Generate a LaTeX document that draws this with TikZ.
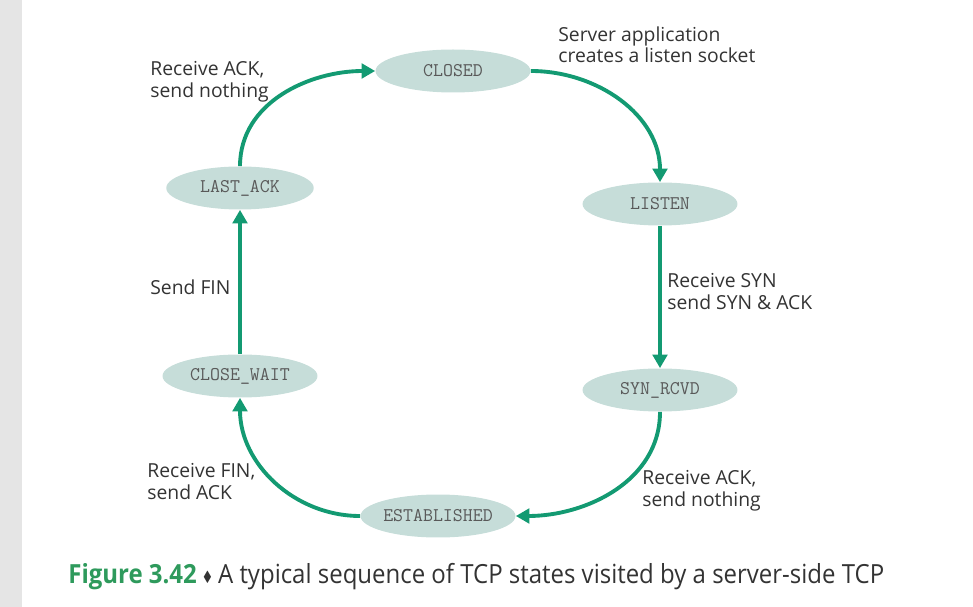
\documentclass[tikz,border=0pt]{standalone}
\usepackage{amssymb}
\usepackage{fontspec}
\setmainfont{Open Sans}
\usetikzlibrary{shapes.geometric,arrows.meta}
\definecolor{tcpgreen}{HTML}{139A72}
\definecolor{statefill}{HTML}{C6DDD9}
\definecolor{labelgray}{HTML}{333333}
\definecolor{figgreen}{HTML}{2E9A5C}

\begin{document}
\begin{tikzpicture}[
    x=0.02cm, y=-0.02cm,
    tcpstate/.style={ellipse, fill=statefill, minimum width=3.1cm, minimum height=0.86cm,
                     inner sep=0pt, text=black!65, font=\ttfamily\fontsize{11}{12}\selectfont},
    lbl/.style={anchor=north west, align=left, inner sep=0pt, text=labelgray,
                font=\fontsize{11}{12.5}\selectfont},
    arrow/.style={-{Triangle[length=2.7mm, width=2.9mm]}, line width=2.2pt, draw=tcpgreen}
  ]
    \useasboundingbox (0,0) rectangle (973,607);
    \fill[black!10] (0,0) rectangle (22,607);
    % states
    \node[tcpstate] (closed) at (453,71) {CLOSED};
    \node[tcpstate] (listen) at (660,204) {LISTEN};
    \node[tcpstate] (synrcvd) at (660,390) {SYN\_RCVD};
    \node[tcpstate] (established) at (438,516) {ESTABLISHED};
    \node[tcpstate] (closewait) at (240,376) {CLOSE\_WAIT};
    \node[tcpstate, minimum width=2.95cm] (lastack) at (240,188) {LAST\_ACK};
    % transitions
    \draw[arrow] (closed.east) to[out=0, in=90] (listen.north);
    \draw[arrow] (synrcvd.south) to[out=-90, in=0] (established.east);
    \draw[arrow] (established.west) to[out=180, in=-90] (closewait.south);
    \draw[arrow] (lastack.north) to[out=90, in=180] (closed.west);
    \foreach \a/\b in {listen/synrcvd, closewait/lastack}
      \draw[arrow] (\a) -- (\b);
    % labels
    \node[lbl] (l-ack1) at (150,61) {Receive ACK,\\send nothing};
    \node[lbl] (l-srv) at (558,26) {Server application\\creates a listen socket};
    \node[lbl] (l-syn) at (667,273) {Receive SYN\\send SYN \& ACK};
    \node[lbl] (l-fin) at (150,279) {Send FIN};
    \node[lbl] (l-rfin) at (147,463) {Receive FIN,\\send ACK};
    \node[lbl] (l-ack2) at (642,470) {Receive ACK,\\send nothing};
    % caption
    \node[anchor=base west, inner sep=0pt, text=labelgray] (caption) at (68,583)
      {\scalebox{0.91}[1]{\fontsize{15}{18}\selectfont{\color{figgreen}\bfseries Figure 3.42}
       \raisebox{1pt}{\scalebox{0.55}{$\blacklozenge$}} A typical sequence of TCP states visited by a server-side TCP}};
\end{tikzpicture}
\end{document}
